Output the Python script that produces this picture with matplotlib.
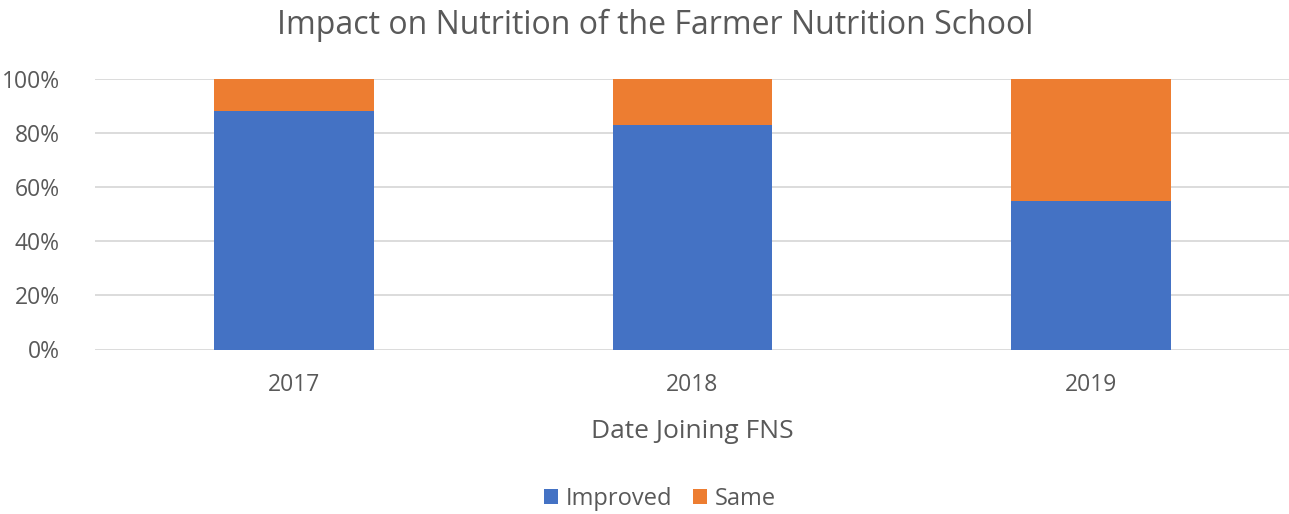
import matplotlib
matplotlib.use("Agg")
import matplotlib.pyplot as plt
from matplotlib.ticker import PercentFormatter

years = ["2017", "2018", "2019"]
improved = [88, 83, 55]
same = [12, 17, 45]

plt.rcParams['font.family'] = ['Open Sans', 'DejaVu Sans']
txt = '#595959'
W, H = 1289, 514

fig = plt.figure(figsize=(W/100, H/100), dpi=100)
ax = fig.add_axes([94.5/W, 1-349.5/H, (1290.5-94.5)/W, 270.5/H])

x = range(len(years))
ax.bar(x, improved, width=0.4, color='#4472C4', label='Improved', zorder=3)
ax.bar(x, same, width=0.4, bottom=improved, color='#ED7D31', label='Same', zorder=3)

ax.set_xlim(-0.5, len(years) - 0.5)
ax.set_ylim(0, 100)
ax.set_yticks([0, 20, 40, 60, 80, 100])
ax.yaxis.set_major_formatter(PercentFormatter(decimals=0))
ax.set_xticks(list(x))
ax.set_xticklabels(years)
ax.grid(axis='y', color='#d9d9d9', linewidth=1.3, zorder=0)
for s in ax.spines.values():
    s.set_visible(False)
ax.tick_params(axis='both', length=0, labelsize=16.5, colors=txt)
ax.tick_params(axis='y', pad=25)
ax.tick_params(axis='x', pad=17)
ax.set_xlabel('Date Joining FNS', fontsize=19, color=txt, labelpad=16)

fig.text(655/W, 1-25/H, 'Impact on Nutrition of the Farmer Nutrition School',
         fontsize=23, color=txt, ha='center', va='center')

leg = fig.legend(loc='center', bbox_to_anchor=(660/W, 1-499/H), ncol=2, frameon=False,
                 fontsize=17, handlelength=0.6, handleheight=0.6, handletextpad=0.3,
                 columnspacing=0.9)
for t in leg.get_texts():
    t.set_color(txt)

fig.savefig('out.png', dpi=100)
